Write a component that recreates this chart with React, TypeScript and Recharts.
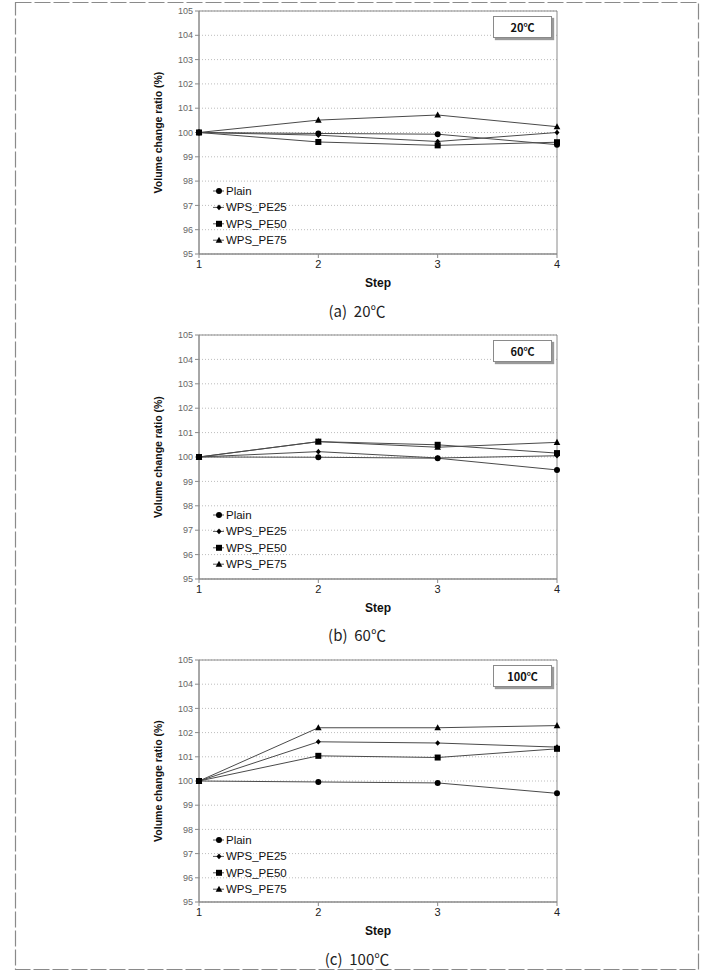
import React from 'react';
import { LineChart, Line, XAxis, YAxis, CartesianGrid, ReferenceArea, Legend } from 'recharts';

const STEPS = [1, 2, 3, 4];
const X_TICKS = [1, 2, 3, 4];
const Y_TICKS = [95, 96, 97, 98, 99, 100, 101, 102, 103, 104, 105];
const SERIES_NAMES = ['Plain', 'WPS_PE25', 'WPS_PE50', 'WPS_PE75'];
const SERIES_KEYS = ['plain', 'pe25', 'pe50', 'pe75'];

// (a) 20℃
const PLAIN_20 = [100, 99.96, 99.93, 99.5];
const PE25_20 = [100, 99.89, 99.63, 100.0];
const PE50_20 = [100, 99.61, 99.47, 99.6];
const PE75_20 = [100, 100.51, 100.72, 100.24];

// (b) 60℃
const PLAIN_60 = [100, 99.99, 99.95, 99.47];
const PE25_60 = [100, 100.22, 99.96, 100.05];
const PE50_60 = [100, 100.63, 100.5, 100.16];
const PE75_60 = [100, 100.63, 100.4, 100.6];

// (c) 100℃
const PLAIN_100 = [100, 99.96, 99.92, 99.49];
const PE25_100 = [100, 101.62, 101.57, 101.4];
const PE50_100 = [100, 101.04, 100.97, 101.33];
const PE75_100 = [100, 102.2, 102.2, 102.29];

const PANEL_TITLES = ['20℃', '60℃', '100℃'];
const CAPTIONS = ['(a)  20℃', '(b)  60℃', '(c)  100℃'];

type Shape = 'circle' | 'diamond' | 'square' | 'triangle';
const SHAPES: Shape[] = ['circle', 'diamond', 'square', 'triangle'];

const buildRows = (p: number[], a: number[], b: number[], c: number[]) =>
  STEPS.map((s, i) => ({ step: s, plain: p[i], pe25: a[i], pe50: b[i], pe75: c[i] }));

const DATASETS = [
  buildRows(PLAIN_20, PE25_20, PE50_20, PE75_20),
  buildRows(PLAIN_60, PE25_60, PE50_60, PE75_60),
  buildRows(PLAIN_100, PE25_100, PE50_100, PE75_100),
];

const FONT = '"Liberation Sans", Arial, sans-serif';
const CJK = '"Noto Sans CJK KR", sans-serif';

function Marker({ shape, cx, cy }: { shape: Shape; cx: number; cy: number }) {
  if (cx == null || cy == null || isNaN(cx) || isNaN(cy)) return null;
  switch (shape) {
    case 'circle':
      return <circle cx={cx} cy={cy} r={3} fill="#000" />;
    case 'diamond':
      return <path d={`M${cx},${cy - 2.8}L${cx + 2.5},${cy}L${cx},${cy + 2.8}L${cx - 2.5},${cy}Z`} fill="#000" />;
    case 'square':
      return <rect x={cx - 3} y={cy - 3} width={6} height={6} fill="#000" />;
    case 'triangle':
      return <path d={`M${cx},${cy - 3.5}L${cx + 3.3},${cy + 2.6}L${cx - 3.3},${cy + 2.6}Z`} fill="#000" />;
  }
  return null;
}

const PANELS = [
  { top: 0, height: 324, mTop: 11, mBottom: 40 },
  { top: 324, height: 324, mTop: 11, mBottom: 39 },
  { top: 648, height: 326, mTop: 12, mBottom: 42 },
];

function LegendBox() {
  return (
    <svg width={110} height={70} style={{ display: 'block' }}>
      {SERIES_NAMES.map((name, i) => {
        const y = 8 + i * 16.4;
        return (
          <g key={name}>
            <line x1={0} x2={11} y1={y} y2={y} stroke="#555" strokeWidth={1} />
            <Marker shape={SHAPES[i]} cx={6} cy={y} />
            <text x={13} y={y} dominantBaseline="central" fontFamily={FONT} fontSize={11.5} fill="#111">
              {name}
            </text>
          </g>
        );
      })}
    </svg>
  );
}

function Panel({ idx }: { idx: number }) {
  const cfg = PANELS[idx];
  const rows = DATASETS[idx];
  return (
    <div style={{ position: 'absolute', left: 0, top: cfg.top, width: 706, height: cfg.height }}>
      <LineChart
        width={706}
        height={cfg.height}
        data={rows}
        margin={{ top: cfg.mTop, right: 149, left: 169, bottom: cfg.mBottom }}
      >
        <CartesianGrid vertical={false} stroke="#bdbdbd" strokeDasharray="1 2" />
        <ReferenceArea x1={1} x2={4} y1={95} y2={105} fill="none" stroke="#8a8a8a" strokeWidth={1} ifOverflow="visible" />
        <XAxis
          dataKey="step"
          type="number"
          domain={[1, 4]}
          ticks={X_TICKS}
          interval={0}
          height={30}
          tickSize={4}
          tickMargin={2}
          stroke="#8a8a8a"
          tick={{ fill: '#222', fontSize: 11, fontFamily: FONT }}
          label={{
            content: (props: any) => {
              const vb = props.viewBox || {};
              return (
                <text x={vb.x + vb.width / 2} y={vb.y + 33} textAnchor="middle" fontFamily={FONT} fontWeight="bold" fontSize={12} fill="#111">
                  Step
                </text>
              );
            },
          }}
        />
        <YAxis
          type="number"
          domain={[95, 105]}
          ticks={Y_TICKS}
          interval={0}
          width={30}
          tickSize={4}
          tickMargin={2}
          stroke="#8a8a8a"
          tick={{ fill: '#666', fontSize: 9, fontFamily: FONT }}
          label={{
            content: (props: any) => {
              const vb = props.viewBox || {};
              const x = vb.x - 11;
              const y = vb.y + vb.height / 2;
              return (
                <text
                  x={x}
                  y={y}
                  transform={`rotate(-90 ${x} ${y})`}
                  textAnchor="middle"
                  dominantBaseline="central"
                  fontFamily={FONT}
                  fontWeight="bold"
                  fontSize={10.5}
                  fill="#111"
                >
                  Volume change ratio (%)
                </text>
              );
            },
          }}
        />
        {SERIES_KEYS.map((k, i) => (
          <Line
            key={k}
            dataKey={k}
            name={SERIES_NAMES[i]}
            stroke="#4a4a4a"
            strokeWidth={1}
            isAnimationActive={false}
            dot={(p: any) => <Marker key={`${k}-${p.index}`} shape={SHAPES[i]} cx={p.cx} cy={p.cy} />}
            activeDot={false}
          />
        ))}
        <Legend
          layout="horizontal"
          verticalAlign="middle"
          align="center"
          content={() => <LegendBox />}
          wrapperStyle={{ position: 'absolute', left: 213, top: cfg.mTop + 172, width: 110, height: 70 }}
        />
      </LineChart>
      <div
        style={{
          position: 'absolute',
          left: 493,
          top: cfg.mTop + 5,
          width: 57,
          height: 20,
          border: '1px solid #8a8a8a',
          boxShadow: '2px 2px 1px #9a9a9a',
          background: '#fff',
          fontFamily: CJK,
          fontWeight: 'bold',
          fontSize: 11,
          lineHeight: '20px',
          textAlign: 'center',
          color: '#111',
        }}
      >
        {PANEL_TITLES[idx]}
      </div>
      <div
        style={{
          position: 'absolute',
          left: 257,
          top: 300,
          width: 200,
          textAlign: 'center',
          fontFamily: CJK,
          fontSize: 15,
          lineHeight: '22px',
          whiteSpace: 'pre',
          color: '#222',
        }}
      >
        {CAPTIONS[idx]}
      </div>
    </div>
  );
}

export default function App() {
  return (
    <div style={{ position: 'absolute', left: 0, top: 0, width: 706, height: 974, background: '#fff', overflow: 'hidden' }}>
      <svg width={706} height={974} style={{ position: 'absolute', left: 0, top: 0 }}>
        <rect x={15.5} y={2.5} width={683} height={967} fill="none" stroke="#8a8a8a" strokeWidth={1.2} strokeDasharray="16 3" />
      </svg>
      {[0, 1, 2].map((i) => (
        <Panel key={i} idx={i} />
      ))}
    </div>
  );
}
